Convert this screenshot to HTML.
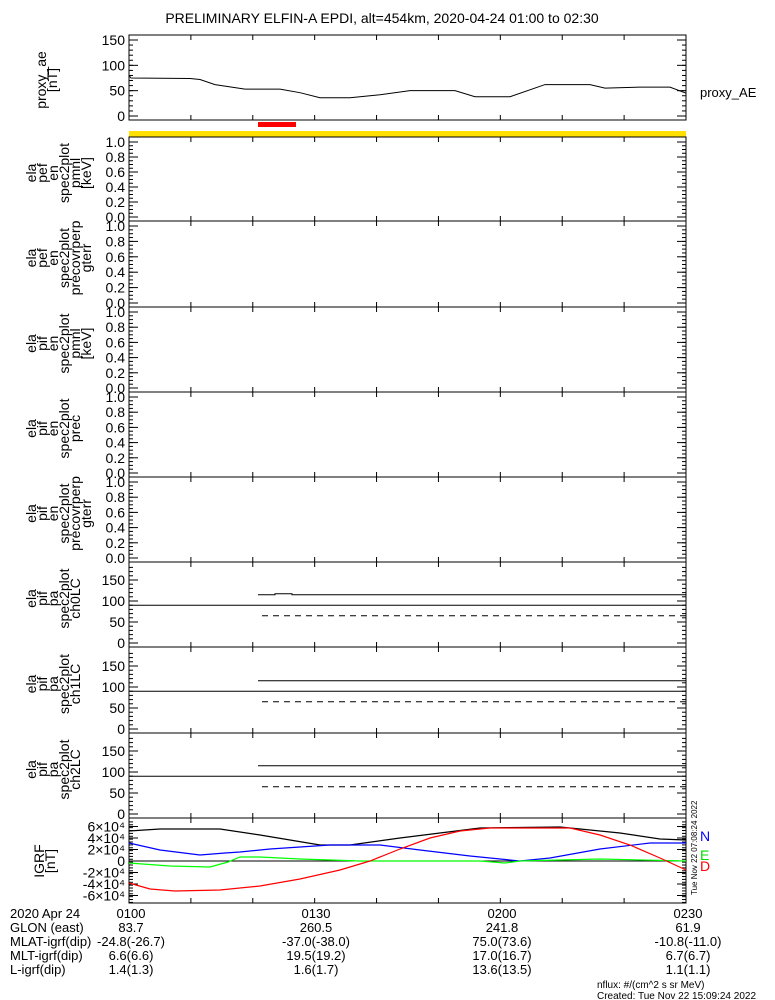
<!DOCTYPE html>
<html><head><meta charset="utf-8"><style>
html,body{margin:0;padding:0;background:#fff;}
svg{display:block;font-family:"Liberation Sans","DejaVu Sans",sans-serif;}
</style></head><body>
<svg id="s" width="775" height="1000" viewBox="0 0 775 1000" xmlns="http://www.w3.org/2000/svg">
<text x="382" y="23" font-size="14" text-anchor="middle">PRELIMINARY ELFIN-A EPDI, alt=454km, 2020-04-24 01:00 to 02:30</text>
<rect x="258" y="122" width="38" height="5" fill="#f00"/>
<rect x="129" y="131" width="557" height="6" fill="#ffe000"/>
<text x="700" y="97" font-size="13">proxy_AE</text>
<g font-size="13">
<text x="10" y="918">2020 Apr 24</text>
<text x="10" y="932">GLON (east)</text>
<text x="10" y="946">MLAT-igrf(dip)</text>
<text x="10" y="960">MLT-igrf(dip)</text>
<text x="10" y="974">L-igrf(dip)</text>
<g text-anchor="middle">
<text x="131" y="918">0100</text><text x="316" y="918">0130</text><text x="502" y="918">0200</text><text x="688" y="918">0230</text>
<text x="131" y="932">83.7</text><text x="316" y="932">260.5</text><text x="502" y="932">241.8</text><text x="688" y="932">61.9</text>
<text x="131" y="946">-24.8(-26.7)</text><text x="316" y="946">-37.0(-38.0)</text><text x="502" y="946">75.0(73.6)</text><text x="688" y="946">-10.8(-11.0)</text>
<text x="131" y="960">6.6(6.6)</text><text x="316" y="960">19.5(19.2)</text><text x="502" y="960">17.0(16.7)</text><text x="688" y="960">6.7(6.7)</text>
<text x="131" y="974">1.4(1.3)</text><text x="316" y="974">1.6(1.7)</text><text x="502" y="974">13.6(13.5)</text><text x="688" y="974">1.1(1.1)</text>
</g></g>
<text x="597" y="988" font-size="10">nflux: #/(cm^2 s sr MeV)</text>
<text x="597" y="999" font-size="10">Created: Tue Nov 22 15:09:24 2022</text>
<text x="0" y="0" font-size="8" transform="translate(697,895) rotate(-90)">Tue Nov 22 07:08:24 2022</text>
<text x="700" y="841" font-size="14" fill="#00f">N</text>
<text x="700" y="860" font-size="14" fill="#0d0">E</text>
<text x="700" y="871" font-size="14" fill="#f00">D</text>
</svg>
<script>
var s=document.getElementById('s'),NS='http://www.w3.org/2000/svg';
function el(t,a,txt){var e=document.createElementNS(NS,t);for(var k in a)e.setAttribute(k,a[k]);if(txt!==undefined)e.textContent=txt;s.appendChild(e);return e;}
function line(x1,y1,x2,y2,c,w,d){var a={x1:x1,y1:y1,x2:x2,y2:y2,stroke:c||'#000','stroke-width':w||1};if(d)a['stroke-dasharray']=d;el('line',a);}
var X0=129,X1=686;
function panel(top,bot,ylo,yhi,labels,yval,minorStep,lbls,lblx,lcy){
  el('rect',{x:X0,y:top,width:X1-X0,height:bot-top,fill:'none',stroke:'#000','stroke-width':1});
  for(var i=1;i<9;i++){var x=X0+(X1-X0)*i/9;line(x,top,x,top+5);line(x,bot,x,bot-5);}
  function Y(v){return ylo+(v-yval[0])/(yval[1]-yval[0])*(yhi-ylo);}
  for(var v=yval[0];v<=yval[1]+1e-9;v+=minorStep){var y=Y(v);line(X0,y,X0+4,y);line(X1,y,X1-4,y);}
  labels.forEach(function(L){var y=Y(L[0]);line(X0,y,X0+9,y);line(X1,y,X1-9,y);
    if(L[1]!==null)el('text',{x:X0-4,y:y+5,'font-size':14,'text-anchor':'end'},L[1]);});
  var cy=lcy||(top+bot)/2;
  lbls.forEach(function(t,i){el('text',{x:0,y:0,'font-size':14,'text-anchor':'middle',transform:'translate('+(lblx+i*11)+','+cy+') rotate(-90)'},t);});
  return Y;
}
var Yt=panel(35,120,116,40,[[0,'0'],[50,'50'],[100,'100'],[150,'150']],[0,150],10,['proxy_ae','[nT]'],46,80);
var pts=[[129,80],[131,75],[190,74],[200,72],[215,62],[245,53],[280,53],[300,46],[320,36],[350,36],[380,42],[410,50],[455,50],[475,38],[510,38],[545,62],[590,62],[605,55],[640,57],[670,57],[686,45]];
el('polyline',{points:pts.map(function(p){return p[0]+','+Yt(p[1]);}).join(' '),fill:'none',stroke:'#000','stroke-width':1});
var tops=[137,221,307,392,477,562,647,733,818,903];
var names=[['ela','pef','en','spec2plot','pmnl','[keV]'],['ela','pef','en','spec2plot','precovrperp','gterr'],['ela','pif','en','spec2plot','pmnl','[keV]'],['ela','pif','en','spec2plot','prec'],['ela','pif','en','spec2plot','precovrperp','gterr'],['ela','pif','pa','spec2plot','ch0LC'],['ela','pif','pa','spec2plot','ch1LC'],['ela','pif','pa','spec2plot','ch2LC']];
for(var p=0;p<5;p++){
  var t=tops[p],b=tops[p+1];
  panel(t,b,b-4,t+5,[[0,'0.0'],[0.2,'0.2'],[0.4,'0.4'],[0.6,'0.6'],[0.8,'0.8'],[1.0,'1.0']],[0,1],0.05,names[p],36,(t+b)/2-6);
}
for(var p=5;p<8;p++){
  var t=tops[p],b=tops[p+1];
  var Y=panel(t,b,b-4,b-4-75.6,[[0,'0'],[50,'50'],[100,'100'],[150,'150']],[0,180],10,names[p],36,(t+b)/2-6);
  line(X0,Y(90),X1,Y(90));
  if(p==5){el('polyline',{points:'258,'+Y(115)+' 275,'+Y(115)+' 275,'+(Y(115)-1)+' 292,'+(Y(115)-1)+' 292,'+Y(115)+' 686,'+Y(115),fill:'none',stroke:'#000'});}
  else line(258,Y(115),686,Y(115));
  line(262,Y(65),686,Y(65),'#000',1,'6,5');
}
var Yg=panel(818,903,861+7.2*5.75,861-7.2*5.75,[[-6,'-6\u00d710\u2074'],[-4,'-4\u00d710\u2074'],[-2,'-2\u00d710\u2074'],[0,'0'],[2,'2\u00d710\u2074'],[4,'4\u00d710\u2074'],[6,'6\u00d710\u2074']],[-7.2,7.2],0.5,['IGRF','[nT]'],44,861);
line(X0,861,X1,861);
function pl(p,c){el('polyline',{points:p,fill:'none',stroke:c,'stroke-width':1.2});}
pl('129,831 160,829 220,829 260,835 320,845 350,845 400,838 480,828 560,827 620,833 660,839 686,840','#000');
pl('129,843 160,850 200,855 225,853 240,852 270,849 330,845 380,845 420,850 470,856 520,861 550,858 600,849 650,843 686,843','#00f');
pl('129,863 170,866 210,867 228,862 240,857 260,857 300,859 360,861 480,861 505,863 520,861 600,859 686,861','#0f0');
pl('129,883 150,889 175,891 220,890 260,886 300,879 340,870 370,861 400,849 430,838 460,831 490,828 570,828 600,835 630,845 660,858 686,870','#f00');
</script>
</body></html>
